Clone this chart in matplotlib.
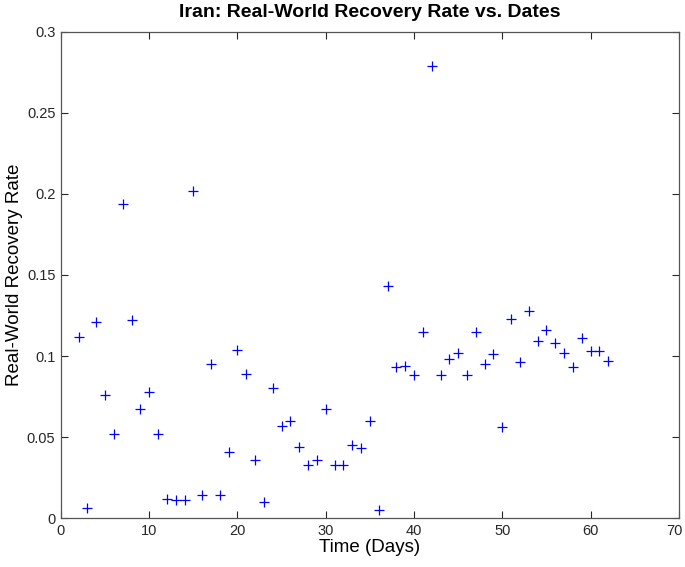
import matplotlib
matplotlib.use("Agg")
import matplotlib.pyplot as plt
import matplotlib.transforms as mtransforms

plt.rcParams['font.family'] = ['Liberation Sans', 'DejaVu Sans']

days = list(range(2, 63))
rates = [0.112, 0.006, 0.121, 0.076, 0.052, 0.194, 0.122, 0.067, 0.078, 0.052,
         0.012, 0.011, 0.011, 0.202, 0.014, 0.095, 0.014, 0.041, 0.104, 0.089,
         0.036, 0.010, 0.080, 0.057, 0.060, 0.044, 0.033, 0.036, 0.067, 0.033,
         0.033, 0.045, 0.043, 0.060, 0.005, 0.143, 0.093, 0.094, 0.088, 0.115,
         0.279, 0.088, 0.098, 0.102, 0.088, 0.115, 0.095, 0.101, 0.056, 0.123,
         0.096, 0.128, 0.109, 0.116, 0.108, 0.102, 0.093, 0.111, 0.103, 0.103,
         0.097]
xticks = [0, 10, 20, 30, 40, 50, 60, 70]
yticks = [0, 0.05, 0.1, 0.15, 0.2, 0.25, 0.3]
yticklabels = ['0', '0.05', '0.1', '0.15', '0.2', '0.25', '0.3']

fig = plt.figure(figsize=(6.85, 5.67), dpi=100)
ax = fig.add_axes([0.089, 0.0864, 0.902, 0.8572])
ax.plot(days, rates, linestyle='none', marker='+', color='#0000ff',
        markersize=7.5, markeredgewidth=0.9)
ax.set_xlim(0, 70)
ax.set_ylim(0, 0.3)
ax.set_xticks(xticks)
ax.set_xticklabels([str(t) for t in xticks])
ax.set_yticks(yticks)
ax.set_yticklabels(yticklabels)
ax.tick_params(direction='in', top=True, right=True, length=5, width=0.8,
               labelsize=10.5, colors='#262626', pad=4)
for s in ax.spines.values():
    s.set_color('#555555')
    s.set_linewidth(0.9)
# nudge the last x tick label so it stays inside the figure
last = ax.get_xticklabels()[-1]
last.set_transform(last.get_transform() +
                   mtransforms.ScaledTranslation(-3 / 72, 0, fig.dpi_scale_trans))
ax.set_xlabel('Time (Days)', fontsize=13.5, labelpad=1)
ax.set_ylabel('Real-World Recovery Rate', fontsize=13.5, labelpad=3)
ax.set_title('Iran: Real-World Recovery Rate vs. Dates', fontsize=14,
             fontweight='bold', pad=11)
fig.savefig('out.png', dpi=100)
